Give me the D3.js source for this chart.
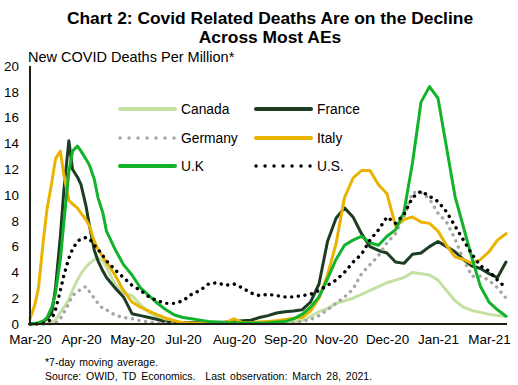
<!DOCTYPE html>
<html>
<head>
<meta charset="utf-8">
<script src="https://cdn.jsdelivr.net/npm/d3@7"></script>
<style>
  body { margin: 0; background: #fff; }
  text { font-family: Arial, "Liberation Sans", sans-serif; fill: #000; }
</style>
</head>
<body>
<div id="chart"></div>
<script>
var dates = ["2020-03-01","2020-03-05","2020-03-08","2020-03-12","2020-03-15","2020-03-19","2020-03-22","2020-03-26","2020-03-29",
  "2020-04-02","2020-04-05","2020-04-09","2020-04-12","2020-04-16","2020-04-19","2020-04-23","2020-04-26","2020-04-30","2020-05-03",
  "2020-05-10","2020-05-17","2020-05-24","2020-05-31","2020-06-07","2020-06-14","2020-06-21","2020-06-28","2020-07-05","2020-07-12",
  "2020-07-19","2020-07-26","2020-08-02","2020-08-09","2020-08-16","2020-08-23","2020-08-30","2020-09-06","2020-09-13","2020-09-20",
  "2020-09-27","2020-10-04","2020-10-11","2020-10-18","2020-10-25","2020-11-01","2020-11-08","2020-11-15","2020-11-22","2020-11-29",
  "2020-12-06","2020-12-13","2020-12-20","2020-12-27","2021-01-03","2021-01-10","2021-01-17","2021-01-24","2021-01-31","2021-02-07",
  "2021-02-14","2021-02-21","2021-02-28","2021-03-07","2021-03-14","2021-03-21","2021-03-28"];

var canada = [0,0,0,0,0.02,0.15,0.3,0.9,1.3,1.9,2.6,3.4,3.9,4.4,4.7,5.0,5.1,4.9,4.4,
  3.1,2.4,2.2,1.5,0.9,0.5,0.3,0.15,0.1,0.08,0.06,0.05,0.05,0.05,0.04,0.04,0.04,0.05,0.05,0.08,0.1,
  0.15,0.25,0.57,0.95,1.2,1.6,1.8,2.0,2.3,2.6,2.9,3.2,3.4,3.6,4.0,3.9,3.8,3.4,2.6,1.8,1.3,1.05,0.9,0.75,0.65,0.6];

var france = [0,0.02,0.05,0.2,0.4,0.9,2.8,6.8,10.5,14.2,12.0,11.4,10.8,9.2,7.6,5.7,4.9,4.1,3.6,
  2.8,2.1,0.8,0.65,0.5,0.35,0.15,0.1,0.08,0.1,0.1,0.1,0.12,0.15,0.2,0.25,0.3,0.5,0.65,0.85,0.95,
  1.0,1.1,1.7,3.1,6.4,8.2,9.0,8.3,7.0,6.0,5.7,5.5,4.8,4.7,5.4,5.5,6.0,6.4,6.0,5.6,5.0,4.5,4.3,3.9,3.6,4.8];

var germany = [0,0,0,0,0,0.02,0.05,0.4,0.9,1.6,2.2,2.5,2.7,2.9,2.5,2.0,1.6,1.2,1.1,
  0.7,0.5,0.4,0.25,0.15,0.1,0.08,0.06,0.05,0.04,0.03,0.03,0.03,0.03,0.03,0.03,0.03,0.03,0.03,0.03,0.05,
  0.1,0.2,0.35,0.65,1.1,1.6,2.1,2.7,3.9,4.6,5.3,6.3,7.0,8.3,10.2,10.2,9.7,8.6,7.9,6.6,5.0,3.7,3.7,3.4,2.8,2.0];

var italy = [0.4,1.5,2.8,6.5,8.9,11.0,12.8,13.4,11.5,9.6,9.3,9.0,8.6,8.1,7.6,6.4,5.8,5.2,4.8,
  3.8,2.6,1.7,1.3,1.0,0.7,0.45,0.25,0.1,0.05,0.05,0.05,0.05,0.1,0.4,0.1,0.1,0.15,0.2,0.25,0.35,
  0.44,0.5,1.0,2.0,3.8,6.2,9.8,11.3,11.9,11.9,10.8,10.1,7.6,8.1,8.3,7.9,7.8,7.2,6.1,5.2,5.0,4.7,5.0,5.6,6.5,7.0];

var uk = [0,0.05,0.1,0.25,0.5,1.3,2.4,5.0,8.0,11.8,13.4,13.8,13.4,12.8,12.3,11.2,9.8,8.6,7.2,
  5.8,4.6,3.8,2.8,2.2,1.6,1.1,0.7,0.5,0.4,0.3,0.2,0.15,0.1,0.1,0.08,0.08,0.08,0.1,0.15,0.2,
  0.4,0.75,1.3,2.1,3.5,5.0,6.1,6.5,6.8,6.3,6.1,6.8,7.3,8.7,12.5,17.2,18.4,17.5,13.7,9.9,7.5,5.1,2.9,1.7,1.1,0.6];

var us = [0,0,0.02,0.05,0.15,0.4,1.1,2.6,3.8,5.1,5.8,6.4,6.6,6.7,6.6,6.1,5.8,5.3,4.9,
  4.2,3.6,3.0,2.6,2.1,1.8,1.6,1.6,1.8,2.3,2.6,3.1,3.2,3.0,3.1,2.8,2.4,2.2,2.3,2.2,2.1,
  2.1,2.2,2.3,2.6,3.0,3.4,4.0,4.8,5.4,6.5,7.3,8.3,7.8,8.5,9.8,10.3,9.9,9.5,8.7,7.6,6.5,5.4,4.5,4.1,3.4,2.8];

var seriesNames = ["Canada", "France", "Germany", "Italy", "U.K", "U.S."];
var seriesColors = ["#c5e0a3", "#1d3d22", "#a6a6a6", "#e9b300", "#12b32b", "#000000"];
var seriesDotted = [false, false, true, false, false, true];
var seriesValues = [canada, france, germany, italy, uk, us];

var tickDates = ["2020-03-01","2020-04-12","2020-05-24","2020-07-05","2020-08-16","2020-09-27","2020-11-08","2020-12-20","2021-01-31","2021-03-14"];
var yTicks = [0, 2, 4, 6, 8, 10, 12, 14, 16, 18, 20];

var width = 518, height = 385;
var parse = d3.timeParse("%Y-%m-%d");

var svg = d3.select("#chart").append("svg")
    .attr("width", width)
    .attr("height", height);

// scales
var x = d3.scaleTime()
    .domain([parse("2020-03-01"), parse("2021-03-28")])
    .range([30, 506]);
var y = d3.scaleLinear().domain([0, 20]).range([324, 66]);

// title
svg.append("text")
    .attr("x", 270).attr("y", 24)
    .attr("text-anchor", "middle")
    .style("font-size", "17.4px").style("font-weight", "bold")
    .text("Chart 2: Covid Related Deaths Are on the Decline");
svg.append("text")
    .attr("x", 270).attr("y", 43)
    .attr("text-anchor", "middle")
    .style("font-size", "17.4px").style("font-weight", "bold")
    .text("Across Most AEs");

svg.append("text")
    .attr("x", 28).attr("y", 62)
    .style("font-size", "14.5px")
    .text("New COVID Deaths Per Million*");

// lines
var line = d3.line()
    .x(function(d) { return x(d.date); })
    .y(function(d) { return y(d.value); });

seriesNames.forEach(function(name, i) {
  var pts = dates.map(function(dt, j) { return {date: parse(dt), value: seriesValues[i][j]}; });
  var path = svg.append("path")
      .datum(pts)
      .attr("fill", "none")
      .attr("stroke", seriesColors[i])
      .attr("stroke-linejoin", "round")
      .attr("d", line);
  if (seriesDotted[i]) {
    path.attr("stroke-width", 3.4)
        .attr("stroke-linecap", "round")
        .attr("stroke-dasharray", "0.1,6.6");
  } else {
    path.attr("stroke-width", 3)
        .attr("stroke-linecap", "round");
  }
});

// axes
var xAxis = d3.axisBottom(x)
    .tickValues(tickDates.map(parse))
    .tickFormat(d3.timeFormat("%b-%y"))
    .tickSize(0)
    .tickPadding(10);

var gx = svg.append("g")
    .attr("transform", "translate(0,324)")
    .call(xAxis);
gx.select(".domain").attr("stroke", "#1f1f14").attr("stroke-width", 2).attr("d", "M29,0H507");
gx.selectAll("text").style("font-size", "13.4px").style("font-family", "Arial, 'Liberation Sans', sans-serif");

var yAxis = d3.axisLeft(y)
    .tickValues(yTicks)
    .tickSize(0)
    .tickPadding(11);

var gy = svg.append("g")
    .attr("transform", "translate(30,0)")
    .call(yAxis);
gy.select(".domain").attr("stroke", "#1f1f14").attr("stroke-width", 2).attr("d", "M0,66V325");
gy.selectAll("text").style("font-size", "13.4px").style("font-family", "Arial, 'Liberation Sans', sans-serif");

// legend
var legendX = [120, 256];
var legendY = [109, 138, 166];
seriesNames.forEach(function(name, i) {
  var lx = legendX[i % 2], ly = legendY[Math.floor(i / 2)];
  var l = svg.append("line")
      .attr("x1", lx).attr("x2", lx + 55)
      .attr("y1", ly).attr("y2", ly)
      .attr("stroke", seriesColors[i])
      .attr("stroke-linecap", "round");
  if (seriesDotted[i]) {
    l.attr("stroke-width", 3.4).attr("stroke-dasharray", "0.1,8.9");
  } else {
    l.attr("stroke-width", 4);
  }
  svg.append("text")
      .attr("x", lx + 61).attr("y", ly)
      .attr("dy", "0.36em")
      .style("font-size", "13.8px")
      .text(name);
});

// notes
svg.append("text")
    .attr("x", 45).attr("y", 366)
    .style("font-size", "10.5px")
    .style("word-spacing", "1px")
    .text("*7-day moving average.");
svg.append("text")
    .attr("x", 45).attr("y", 380)
    .style("font-size", "10.5px")
    .style("word-spacing", "2px")
    .style("white-space", "pre")
    .text("Source: OWID, TD Economics.  Last observation: March 28, 2021.");
</script>
</body>
</html>
